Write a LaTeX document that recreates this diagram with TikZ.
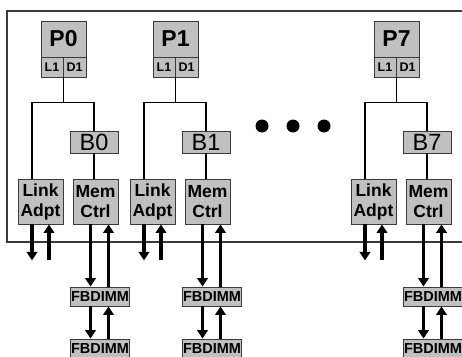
\documentclass[tikz,border=0pt]{standalone}
\usepackage{fontspec}
\setmainfont{Liberation Sans}
\usepackage{xcolor}
\definecolor{BoxGray}{HTML}{C0C0C0}
\definecolor{EdgeGray}{HTML}{3A3A3A}
\usepackage{tikz}
\usetikzlibrary{arrows.meta}

\begin{document}
\begin{tikzpicture}[x=1pt,y=-1pt,
  box/.style={draw=EdgeGray, fill=BoxGray, line width=0.9pt, inner sep=0pt, align=center},
  wire/.style={line width=1.2pt},
  bigarrow/.style={line width=3.3pt, -{Triangle[length=8.5pt,width=10.5pt]}}]
  \useasboundingbox (0,0) rectangle (462,356);
  \draw[wire, EdgeGray] (470,11) -| (7,242) -- (470,242);
  \foreach \o/\n in {0/0,112/1,333/7}{
    \node[box, minimum width=45pt, minimum height=36pt, font=\fontsize{23}{23}\selectfont\bfseries] (proc\n) at (63.5+\o,39) {P\n};
    \node[box, minimum width=22pt, minimum height=20pt, font=\fontsize{12.5}{12.5}\selectfont\bfseries] (lone\n) at (52+\o,67) {L1};
    \node[box, minimum width=23pt, minimum height=20pt, font=\fontsize{12.5}{12.5}\selectfont\bfseries] (done\n) at (74.5+\o,67) {D1};
    \node[box, minimum width=48pt, minimum height=22pt, font=\fontsize{23.5}{23.5}\selectfont] (bus\n) at (94+\o,142) {B\n};
    \node[box, minimum width=45pt, minimum height=45pt, font=\fontsize{17.5}{20}\selectfont\bfseries] (link\n) at (40.5+\o,201.5) {Link\\Adpt};
    \node[box, minimum width=45pt, minimum height=45pt, font=\fontsize{17.5}{20}\selectfont\bfseries] (mem\n) at (95.5+\o,201.5) {Mem\\Ctrl};
    \node[box, minimum width=59pt, minimum height=19pt, font=\fontsize{14.5}{14.5}\selectfont\bfseries] (dimmA\n) at (100+\o,296.5) {FBDIMM};
    \node[box, minimum width=59pt, minimum height=19pt, font=\fontsize{14.5}{14.5}\selectfont\bfseries] (dimmB\n) at (100+\o,348.5) {FBDIMM};
    \draw[wire] (lone\n.south east) -- ++(0,25) coordinate (fork\n);
    \draw[wire] ([xshift=-8.5pt]link\n.north) |- (fork\n) -| (bus\n.north);
    \draw[wire] (bus\n.south) -- (bus\n.south |- mem\n.north);
    \draw[bigarrow] ([xshift=-8.5pt]link\n.south) -- ++(0,36) coordinate (out\n);
    \draw[bigarrow] ([xshift=8.5pt]link\n.south) ++(0,36) coordinate (in\n) -- ([xshift=8.5pt]link\n.south);
    \draw[bigarrow] ([xshift=-5pt]mem\n.south) -- ([xshift=-5pt]mem\n.south |- dimmA\n.north);
    \draw[bigarrow] ([xshift=13pt]mem\n.south |- dimmA\n.north) -- ([xshift=13pt]mem\n.south);
    \draw[bigarrow] ([xshift=-5pt]mem\n.south |- dimmA\n.south) -- ([xshift=-5pt]mem\n.south |- dimmB\n.north);
    \draw[bigarrow] ([xshift=13pt]mem\n.south |- dimmB\n.north) -- ([xshift=13pt]mem\n.south |- dimmA\n.south);
  }
  \foreach \d in {262,293,324} \fill (\d,126) circle (6.5pt);
\end{tikzpicture}
\end{document}
